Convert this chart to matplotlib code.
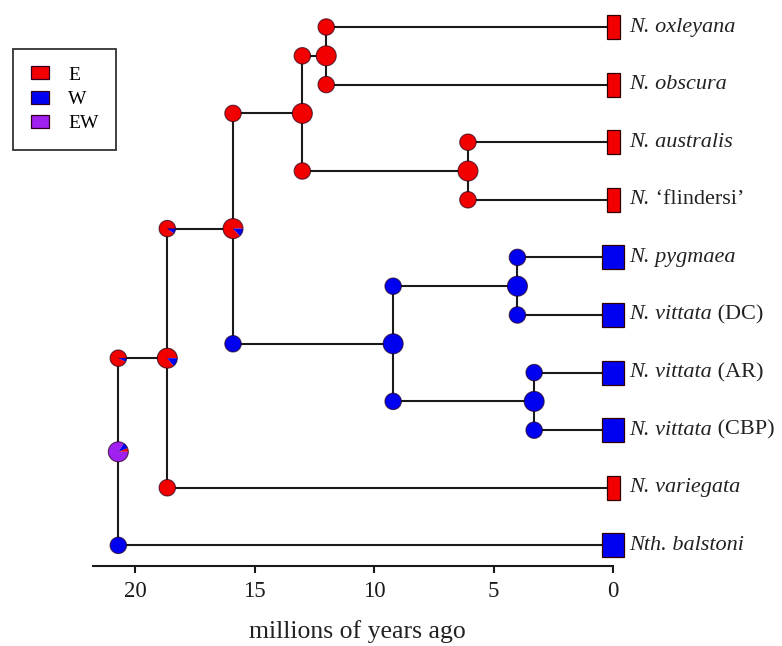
import matplotlib
matplotlib.use("Agg")
import matplotlib.pyplot as plt
from matplotlib.patches import Wedge, Rectangle, Patch
from matplotlib.transforms import ScaledTranslation

plt.rcParams["font.family"] = ["Liberation Serif", "DejaVu Serif"]

# tips, top to bottom
tip_italic = ["N. oxleyana", "N. obscura", "N. australis", "N.", "N. pygmaea",
              "N. vittata", "N. vittata", "N. vittata", "N. variegata", "Nth. balstoni"]
tip_roman = ["", "", "", "\u2018flindersi\u2019", "", "(DC)", "(AR)", "(CBP)", "", ""]
tip_state = ["E", "E", "E", "E", "W", "W", "W", "W", "E", "W"]

# internal nodes: age (Myr) and children (tips 0-9, nodes 10+)
node_age = [12.0, 6.07, 13.0, 4.0, 3.3, 9.2, 15.9, 18.65, 20.7]
node_children = [(0, 1), (2, 3), (10, 11), (4, 5), (6, 7), (13, 14), (12, 15), (16, 8), (17, 9)]

# ancestral range probabilities (E, W, EW): at node, top branch, bottom branch
states = ["E", "W", "EW"]
state_col = {"E": "#f20000", "W": "#0000f0", "EW": "#a020f0"}
pie_node = [[1, 0, 0], [1, 0, 0], [1, 0, 0], [0, 1, 0], [0, 1, 0], [0, 1, 0],
            [0.87, 0.13, 0], [0.86, 0.14, 0], [0.06, 0.10, 0.84]]
pie_top = [[1, 0, 0], [1, 0, 0], [1, 0, 0], [0, 1, 0], [0, 1, 0], [0, 1, 0],
           [1, 0, 0], [0.9, 0.1, 0], [0.93, 0.07, 0]]
pie_bot = [[1, 0, 0], [1, 0, 0], [1, 0, 0], [0, 1, 0], [0, 1, 0], [0, 1, 0],
           [0, 1, 0], [1, 0, 0], [0, 1, 0]]

ticks = [20, 15, 10, 5, 0]

fig = plt.figure(figsize=(7.82, 6.46), dpi=100)
ax = fig.add_axes([0, 0, 1, 1])
ax.set_xlim(25.65, -7.07)
ax.set_ylim(11.747, 0.531)

n_tip = len(tip_italic)
xs = [0.0] * n_tip + list(node_age)
ys = list(range(1, n_tip + 1)) + [0.0] * len(node_age)
for i, (a, b) in enumerate(node_children):
    ys[n_tip + i] = (ys[a] + ys[b]) / 2.0

lw = 1.5
for i, (a, b) in enumerate(node_children):
    x = node_age[i]
    ax.plot([x, x], [ys[a], ys[b]], color="#1a1a1a", lw=lw, zorder=1)
    for c in (a, b):
        ax.plot([x, xs[c]], [ys[c], ys[c]], color="#1a1a1a", lw=lw, zorder=1)


def at(x, y):
    return fig.dpi_scale_trans + ScaledTranslation(x, y, ax.transData)


def pie(x, y, probs, r):
    t = at(x, y)
    start = 0.0
    for p, s in zip(probs, states):
        if p <= 0:
            continue
        ang = 360.0 * p
        ax.add_patch(Wedge((0, 0), r, start, start + ang, transform=t,
                           facecolor=state_col[s], edgecolor="none", zorder=3))
        start += ang
    ax.add_patch(Wedge((0, 0), r, 0, 360, transform=t, facecolor="none",
                       edgecolor=(0.15, 0, 0.1, 0.7), lw=0.8, zorder=4))


for i, (a, b) in enumerate(node_children):
    x = node_age[i]
    pie(x, ys[n_tip + i], pie_node[i], 0.10)
    pie(x, ys[a], pie_top[i], 0.082)
    pie(x, ys[b], pie_bot[i], 0.082)

# tip ranges and labels
for k in range(n_tip):
    s = tip_state[k]
    w = 0.13 if s == "E" else 0.22
    h = 0.24
    ax.add_patch(Rectangle((-w / 2, -h / 2), w, h, transform=at(0, ys[k]),
                           facecolor=state_col[s], edgecolor="#300000", lw=0.9, zorder=3))
    t = ax.text(-0.67, ys[k], tip_italic[k], style="italic", fontsize=16,
                ha="left", va="center", color="#222222")
    if tip_roman[k]:
        ax.annotate(" " + tip_roman[k], xy=(1, 0), xycoords=t, fontsize=16,
                    ha="left", va="bottom", color="#222222")

# time axis
for side in ["top", "left", "right"]:
    ax.spines[side].set_visible(False)
ax.spines["bottom"].set_position(("data", 10.36))
ax.spines["bottom"].set_bounds(21.76, 0)
ax.spines["bottom"].set_linewidth(1.5)
ax.spines["bottom"].set_color("#1a1a1a")
ax.set_xticks(ticks)
ax.set_xticklabels([str(v) for v in ticks])
ax.tick_params(axis="x", direction="out", length=5, width=1.5, pad=6,
               labelsize=16.5, colors="#1a1a1a")
ax.set_yticks([])
fig.text(357 / 782, 1 - 632 / 646, "millions of years ago", fontsize=18.5,
         ha="center", va="center", color="#222222")

handles = [Patch(facecolor=state_col[s], edgecolor="#300020", lw=0.9) for s in states]
leg = ax.legend(handles, states, loc="upper left",
                bbox_to_anchor=(13 / 782, 1 - 49 / 646), bbox_transform=fig.transFigure,
                fancybox=False, edgecolor="black", fontsize=14, handlelength=0.95,
                handleheight=0.65, labelspacing=0.35, handletextpad=1.0,
                borderpad=0.9, borderaxespad=0)
leg.get_frame().set_linewidth(1.3)

fig.savefig("out.png", dpi=100)
